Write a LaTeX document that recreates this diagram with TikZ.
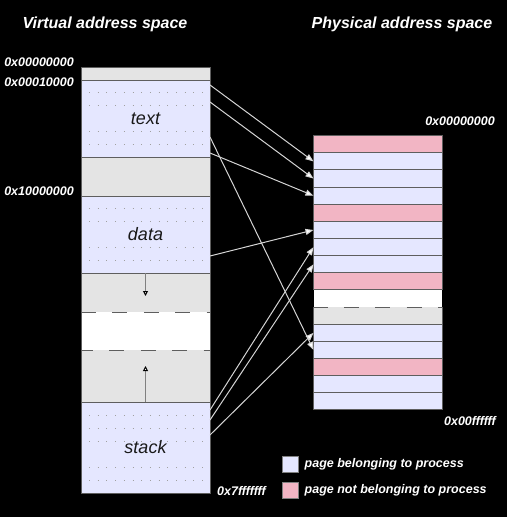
\documentclass[tikz,border=0pt]{standalone}
\usepackage{fontspec}
\setmainfont{Liberation Sans}
\usetikzlibrary{arrows.meta}
\usetikzlibrary{positioning}

\definecolor{owncol}{HTML}{E5E7FF}
\definecolor{othercol}{HTML}{F2B5C4}
\definecolor{freecol}{HTML}{E4E4E4}
\definecolor{framecol}{HTML}{5E5E5E}
\definecolor{dotcol}{HTML}{A0A0A0}
\definecolor{mapcol}{HTML}{D4D4D4}
\definecolor{growcol}{HTML}{808080}

\tikzset{
  seg/.style={inner sep=0pt, outer sep=0pt, minimum width=129pt, anchor=north west},
  page/.style={draw=framecol, line width=1pt, inner sep=0pt, outer sep=0pt,
    minimum width=128.5pt, minimum height=17.14pt, anchor=north west},
  own/.style={fill=owncol},
  other/.style={fill=othercol},
  free/.style={fill=freecol, draw=none},
  gap/.style={fill=white, draw=none},
  frame/.style={framecol, line width=1pt},
  gapline/.style={framecol, line width=1pt, dash pattern=on 15pt off 16.4pt},
  dots/.style={dotcol, line width=0.8pt, dash pattern=on 0.8pt off 7.9pt, dash phase=-8pt},
  map/.style={mapcol, line width=1pt, -{Triangle[length=8pt,width=6pt,fill=white]}},
  growline/.style={growcol, line width=1pt, -{Triangle[open,length=5pt,width=5pt,fill=white,color=black]}},
  title/.style={text=white, font=\bfseries\itshape\fontsize{16}{19}\selectfont},
  addr/.style={text=white, font=\bfseries\itshape\fontsize{12.5}{15}\selectfont, inner sep=0pt},
  seglabel/.style={text=black!90, font=\itshape\fontsize{18}{21}\selectfont},
  key/.style={draw=gray, line width=1pt, minimum size=16pt, inner sep=0pt},
}

\begin{document}
\begin{tikzpicture}[x=1pt, y=-1pt]
  \useasboundingbox (0,0) rectangle (507,517);
  \fill[black] (0,0) rectangle (507,517);

  % titles
  \node[title] (vtitle) at (105,24) {Virtual address space};
  \node[title] (ptitle) at (402,24) {Physical address space};

  % virtual address space
  \node[seg, free, minimum height=13pt] (guard) at (81,67) {};
  \node[seg, own, minimum height=77pt, seglabel] (text) at (81,80) {text};
  \node[seg, free, minimum height=39pt] (void) at (81,157) {};
  \node[seg, own, minimum height=77pt, seglabel] (data) at (81,196) {data};
  \node[seg, free, minimum height=39pt] (heap) at (81,273) {};
  \node[seg, gap, minimum height=38pt] (hole) at (81,312) {};
  \node[seg, free, minimum height=52pt] (stackroom) at (81,350) {};
  \node[seg, own, minimum height=91pt, seglabel] (stack) at (81,402) {stack};

  \foreach \y in {92.8,105.7,131.3,144.2,208.8,221.7,247.3,260.2,415,428,441,467,480}
    \draw[dots] (81,\y) -- (210,\y);

  \draw[frame] (guard.north west) rectangle (stack.south east);
  \foreach \s in {guard,text,void,data,stackroom}
    \draw[frame] (\s.south west) -- (\s.south east);
  \draw[gapline] (hole.north west) -- (hole.north east);
  \draw[gapline, dash phase=3pt] (hole.south west) -- (hole.south east);

  % heap and stack growth
  \coordinate (heaptop) at (145.5,296);
  \coordinate (stacktop) at (145.5,366);
  \draw[growline] (data.south) -- (heaptop);
  \draw[growline] (stack.north) -- (stacktop);

  % physical address space
  \foreach \kind [count=\i] in {other,own,own,own,other,own,own,own,other,gap,free,own,own,other,own,own}
    \node[page, \kind] (p\i) at (313.5,{135.7+(\i-1)*17.14}) {};
  \draw[frame] (p11.north west) -- (p11.south west) (p11.north east) -- (p11.south east);
  \draw[gapline, dash phase=1pt] (p10.south west) -- (p10.south east);

  % addresses
  \node[addr, anchor=east] (a0) at (74,62) {0x00000000};
  \node[addr, anchor=east] (a1) at (74,82) {0x00010000};
  \node[addr, anchor=east] (a2) at (74,191) {0x10000000};
  \node[addr, anchor=west] (a3) at (217,491) {0x7fffffff};
  \node[addr, anchor=east] (b0) at (495,121) {0x00000000};
  \node[addr, anchor=east] (b1) at (496,421) {0x00ffffff};

  % mappings
  \coordinate (t1) at ([yshift=-5pt]text.north east);
  \coordinate (t2) at ([yshift=-22pt]text.north east);
  \coordinate (t3) at ([yshift=-57pt]text.north east);
  \coordinate (t4) at ([yshift=-73pt]text.north east);
  \coordinate (d1) at ([yshift=-60pt]data.north east);
  \coordinate (s1) at ([yshift=-8pt]stack.north east);
  \coordinate (s2) at ([yshift=-18pt]stack.north east);
  \coordinate (s3) at ([yshift=-33pt]stack.north east);
  \draw[map] (t1) -- (p2.west);
  \draw[map] (t2) -- (p3.west);
  \draw[map] (t4) -- (p4.west);
  \draw[map] (t3) -- (p13.west);
  \draw[map] (d1) -- (p6.west);
  \draw[map] (s1) -- (p7.west);
  \draw[map] (s2) -- (p8.west);
  \draw[map] (s3) -- (p12.west);

  % legend
  \node[key, fill=owncol] (kown) at (290,464) {};
  \node[key, fill=othercol] (kother) at (290,490) {};
  \node[addr, right=6pt of kown] (lown) {page belonging to process};
  \node[addr, right=6pt of kother] (lother) {page not belonging to process};
\end{tikzpicture}
\end{document}
